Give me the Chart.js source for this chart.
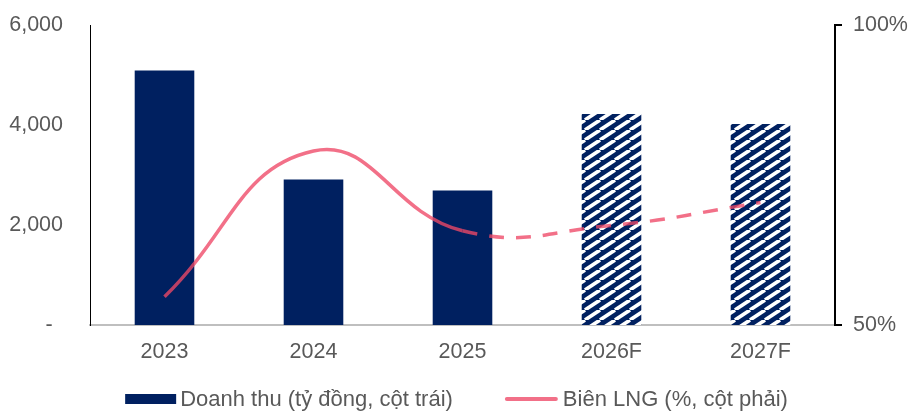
<!DOCTYPE html>
<html>
<head>
<meta charset="utf-8">
<script src="https://cdn.jsdelivr.net/npm/chart.js@4.4.1/dist/chart.umd.min.js"></script>
<style>
  html, body { margin: 0; padding: 0; background: #fff; }
  #wrap { position: relative; width: 909px; height: 412px; }
</style>
</head>
<body>
<div id="wrap"><canvas id="chart"></canvas></div>
<script>
// years shown on the x axis; the last two are forecasts
const years = ["2023", "2024", "2025", "2026F", "2027F"];
// revenue, billion VND (left axis)
const revenue = [5090, 2910, 2690, 4220, 4020];
// net profit margin, % (right axis)
const margin = [54.7, 79.0, 65.7, 66.6, 70.4];
const forecastFrom = 3; // index of the first forecast year

const revenueLabel = "Doanh thu (tỷ đồng, cột trái)";
const marginLabel = "Biên LNG (%, cột phải)";

const NAVY = "#002060";
const PINK = "rgba(238, 72, 102, 0.78)";
const TEXT = "#595959";
const FONT = "'Liberation Sans', Arial, sans-serif";

// diagonal white stripes for the forecast bars
function makeHatch() {
  const c = document.createElement("canvas");
  c.width = 15;
  c.height = 10;
  const g = c.getContext("2d");
  g.fillStyle = NAVY;
  g.fillRect(0, 0, 15, 10);
  g.strokeStyle = "#ffffff";
  g.lineWidth = 3.6;
  for (const dx of [-15, 0, 15]) {
    g.beginPath();
    g.moveTo(dx, 10);
    g.lineTo(dx + 15, 0);
    g.stroke();
  }
  return g.createPattern(c, "repeat");
}
const hatch = makeHatch();

// legend drawn under the axis: a filled box for the bars, a short stroke for the line
const bottomLegend = {
  id: "bottomLegend",
  afterDraw(chart) {
    const ctx = chart.ctx;
    const area = chart.chartArea;
    const y = 399;
    ctx.save();
    ctx.font = "22px " + FONT;
    ctx.textBaseline = "middle";
    ctx.textAlign = "left";
    const w1 = ctx.measureText(revenueLabel).width;
    const w2 = ctx.measureText(marginLabel).width;
    const total = 51 + 4 + w1 + 52 + 53 + 5 + w2;
    let x = (area.left + area.right) / 2 - total / 2 - 6;

    ctx.fillStyle = NAVY;
    ctx.fillRect(x, y - 5, 51, 10);
    x += 55;
    ctx.fillStyle = TEXT;
    ctx.fillText(revenueLabel, x, y + 1);
    x += w1 + 52;

    ctx.strokeStyle = PINK;
    ctx.lineWidth = 4;
    ctx.lineCap = "round";
    ctx.beginPath();
    ctx.moveTo(x + 2, y);
    ctx.lineTo(x + 51, y);
    ctx.stroke();
    x += 58;
    ctx.fillStyle = TEXT;
    ctx.fillText(marginLabel, x, y + 1);
    ctx.restore();
  },
};

// fixed axis widths, and no extra room above the plot for the top tick labels
function fixWidth(w) {
  return (scale) => {
    scale.width = w;
    scale.paddingTop = 0;
    scale.paddingBottom = 0;
  };
}

new Chart(document.getElementById("chart"), {
  data: {
    labels: years,
    datasets: [
      {
        type: "line",
        label: marginLabel,
        data: margin,
        yAxisID: "y1",
        order: 0,
        borderColor: PINK,
        borderWidth: 3.5,
        pointRadius: 0,
        tension: 0.45,
        fill: false,
        segment: {
          borderDash: (ctx) => (ctx.p0DataIndex >= 2 ? [15, 12] : undefined),
        },
      },
      {
        type: "bar",
        label: revenueLabel,
        data: revenue,
        yAxisID: "y",
        order: 1,
        backgroundColor: revenue.map((_, i) => (i >= forecastFrom ? hatch : NAVY)),
        borderWidth: 0,
        categoryPercentage: 1,
        barPercentage: 0.4,
      },
    ],
  },
  options: {
    responsive: true,
    maintainAspectRatio: false,
    animation: false,
    layout: { padding: { top: 25, left: 0, right: 0, bottom: 0 } },
    plugins: {
      legend: { display: false },
      tooltip: { enabled: false },
    },
    scales: {
      x: {
        grid: { display: false },
        border: { display: true, color: "#bfbfbf", width: 2 },
        ticks: {
          color: TEXT,
          font: { family: FONT, size: 21.5 },
          padding: 6,
          maxRotation: 0,
        },
        afterFit(scale) {
          scale.height = 87;
          scale.paddingLeft = 0;
          scale.paddingRight = 0;
        },
      },
      y: {
        position: "left",
        min: 0,
        max: 6000,
        grid: { display: false },
        border: { display: true, color: "#000000", width: 1 },
        ticks: {
          stepSize: 2000,
          color: TEXT,
          font: { family: FONT, size: 21.5 },
          padding: 19,
          callback: (v) => (v === 0 ? "- \u2009" : v.toLocaleString("en-US")),
        },
        afterFit: fixWidth(90),
      },
      y1: {
        position: "right",
        min: 50,
        max: 100,
        grid: {
          display: true,
          drawOnChartArea: false,
          drawTicks: true,
          tickLength: 7,
          color: "#000000",
          lineWidth: 2,
        },
        border: { display: true, color: "#000000", width: 2 },
        ticks: {
          stepSize: 50,
          color: TEXT,
          font: { family: FONT, size: 21.5 },
          padding: 11,
          callback: (v) => v + "%",
        },
        afterFit: fixWidth(74),
      },
    },
  },
  plugins: [bottomLegend],
});
</script>
</body>
</html>
